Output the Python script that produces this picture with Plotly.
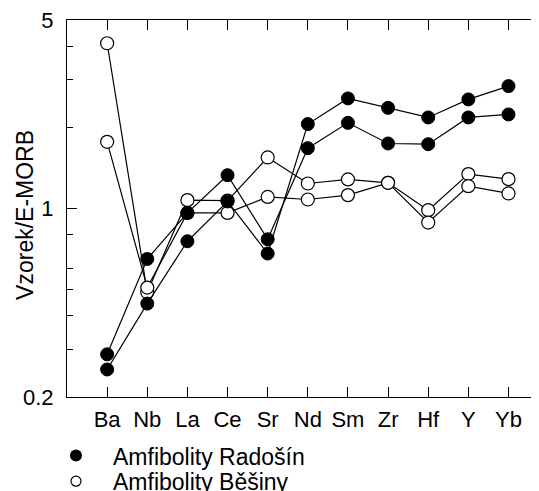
import plotly.graph_objects as go

# element order along the x axis
elements = ['Ba', 'Nb', 'La', 'Ce', 'Sr', 'Nd', 'Sm', 'Zr', 'Hf', 'Y', 'Yb']

# normalised to E-MORB
radosin_1 = [0.288, 0.650, 0.963, 1.329, 0.769, 1.674, 2.078, 1.742, 1.732, 2.176, 2.233]
radosin_2 = [0.253, 0.444, 0.756, 1.062, 0.681, 2.056, 2.560, 2.362, 2.176, 2.538, 2.844]
besiny_1 = [4.10, 0.489, 1.074, 1.070, 1.546, 1.238, 1.282, 1.245, 0.986, 1.342, 1.285]
besiny_2 = [1.767, 0.509, 0.963, 0.963, 1.104, 1.080, 1.121, 1.245, 0.887, 1.210, 1.137]

y_major = [0.2, 1, 5]
y_minor = [0.3, 0.4, 0.5, 0.6, 0.8, 2, 3, 4]

FONT = 'Arial, Liberation Sans, sans-serif'
x_pos = list(range(len(elements)))

fig = go.Figure()

# open symbols first so the filled ones sit on top
for vals in [besiny_1, besiny_2]:
    fig.add_trace(go.Scatter(
        x=x_pos, y=vals, mode='lines+markers',
        line=dict(color='black', width=1.2),
        marker=dict(symbol='circle', size=13, color='white',
                    line=dict(color='black', width=1.2)),
        showlegend=False
    ))

for vals in [radosin_1, radosin_2]:
    fig.add_trace(go.Scatter(
        x=x_pos, y=vals, mode='lines+markers',
        line=dict(color='black', width=1.2),
        marker=dict(symbol='circle', size=13, color='black',
                    line=dict(color='black', width=1)),
        showlegend=False
    ))

# legend entries only, one legend per row so the row spacing can be set
fig.add_trace(go.Scatter(
    x=[None], y=[None], mode='markers', name='Amfibolity Radošín',
    marker=dict(symbol='circle', size=12, color='black'),
    legend='legend'
))
fig.add_trace(go.Scatter(
    x=[None], y=[None], mode='markers', name='Amfibolity Běšiny',
    marker=dict(symbol='circle', size=10, color='white',
                line=dict(color='black', width=1.2)),
    legend='legend2'
))

# mirrored major tick on the right edge (the spine itself is cut off)
fig.add_shape(type='line', xref='paper', yref='y', x0=0.99, x1=1.0, y0=0, y1=0,
              line=dict(color='black', width=1))

# y axis title
fig.add_annotation(
    text='Vzorek/E-MORB', textangle=-90,
    xref='paper', yref='paper', x=-0.0886, y=0.483,
    xanchor='center', yanchor='middle', showarrow=False,
    font=dict(size=23)
)

legend_style = dict(
    xanchor='left', yanchor='top',
    orientation='h', itemwidth=64,
    font=dict(size=23), bgcolor='rgba(0,0,0,0)'
)

# page body has an 8px margin, the right/bottom edges run past the window like the original crop
fig.update_layout(
    width=539, height=491,
    margin=dict(l=59, r=6, t=12, b=102, autoexpand=False),
    plot_bgcolor='white',
    paper_bgcolor='white',
    font=dict(family=FONT, size=22, color='black'),
    xaxis=dict(
        range=[-1, 10.81],
        tickmode='array', tickvals=x_pos, ticktext=elements,
        tickangle=0,
        ticks='inside', ticklen=10, tickcolor='black', tickwidth=1,
        showline=True, linecolor='black', linewidth=1, mirror='ticks',
        showgrid=False, zeroline=False, automargin=False,
        ticklabelstandoff=3,
        tickfont=dict(size=22)
    ),
    yaxis=dict(
        type='log',
        range=[-0.69897, 0.69897],
        tickmode='array', tickvals=y_major, ticktext=['0.2', '1', '5'],
        ticks='inside', ticklen=10, tickcolor='black', tickwidth=1,
        minor=dict(tickmode='array', tickvals=y_minor, ticks='inside',
                   ticklen=6, tickcolor='black', showgrid=False),
        showline=True, linecolor='black', linewidth=1,
        showgrid=False, zeroline=False, automargin=False,
        ticklabelstandoff=8, ticklabeloverflow='allow',
        tickfont=dict(size=22)
    ),
    legend=dict(x=-0.0591, y=-0.0985, **legend_style),
    legend2=dict(x=-0.0591, y=-0.1665, **legend_style)
)

fig.write_html('out.html')
